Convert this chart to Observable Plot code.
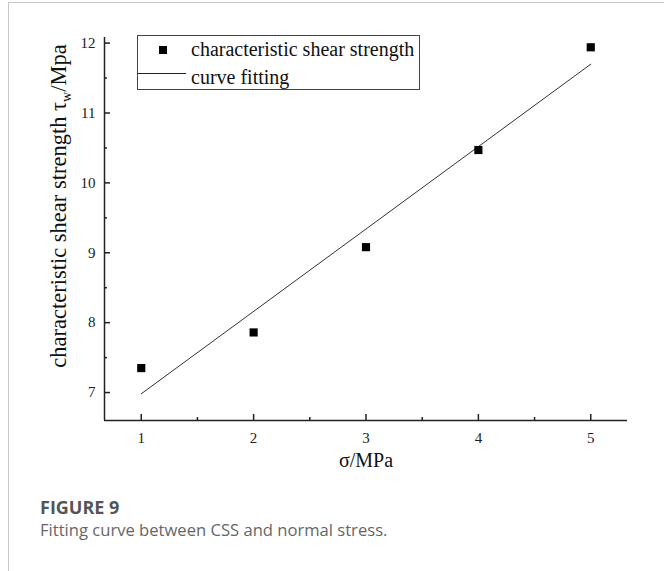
<!DOCTYPE html>
<html>
<head>
<meta charset="utf-8">
<script src="https://cdn.jsdelivr.net/npm/d3@7"></script>
<script src="https://cdn.jsdelivr.net/npm/@observablehq/plot@0.6"></script>
<style>
  body { margin: 0; background: #fff; }
  #fig { position: relative; width: 664px; height: 571px; overflow: hidden; background: #fff; }
  .rule-top { position: absolute; left: 8px; top: 2px; right: 0; border-top: 1px solid #c9c9c9; }
  .rule-left { position: absolute; left: 8px; top: 2px; bottom: 0; border-left: 1px solid #c9c9c9; }
  #chart { position: absolute; left: 0; top: 0; }
  .serif { font-family: "Liberation Serif", "Times New Roman", serif; color: #111; }
  #legend { position: absolute; left: 137px; top: 35px; width: 283px; height: 55px; box-sizing: border-box; border: 1px solid #444; background: #fff; }
  #legend .row { position: absolute; font-size: 20px; line-height: 1; white-space: nowrap; }
  #legend .sq { position: absolute; left: 21px; width: 8px; height: 8px; background: #000; }
  #legend .ln { position: absolute; left: 0; width: 48px; border-top: 1px solid #222; }
  #ylabel { position: absolute; left: 59px; top: 206px; transform: translate(-50%, -50%) rotate(-90deg); font-size: 22.5px; white-space: nowrap; }
  #ylabel sub { font-size: 14px; vertical-align: -5px; line-height: 0; }
  .cap-title { position: absolute; left: 40px; top: 498px; line-height: 1; font-family: "Open Sans", sans-serif; font-weight: 700; font-size: 18px; color: #555; }
  .cap-text { position: absolute; left: 40px; top: 522px; line-height: 1; font-family: "Open Sans", sans-serif; font-size: 16.6px; color: #666; }
</style>
</head>
<body>
<div id="fig">
  <div class="rule-top"></div>
  <div class="rule-left"></div>
  <div id="chart"></div>
  <div id="ylabel" class="serif">characteristic shear strength τ<sub>w</sub>/Mpa</div>
  <div id="legend" class="serif">
    <div class="sq" style="top:10px"></div>
    <div class="row" style="left:53px; top:3px">characteristic shear strength</div>
    <div class="ln" style="top:37px"></div>
    <div class="row" style="left:53px; top:31px">curve fitting</div>
  </div>
  <div class="cap-title">FIGURE 9</div>
  <div class="cap-text">Fitting curve between CSS and normal stress.</div>
</div>
<script>
// Normal stress σ (MPa) and measured characteristic shear strength τw (MPa)
const sigma = [1, 2, 3, 4, 5];
const tauW = [7.35, 7.86, 9.08, 10.47, 11.94];

// Axis ticks
const xMajor = [1, 2, 3, 4, 5];
const xMinor = [1.5, 2.5, 3.5, 4.5];
const yMajor = [7, 8, 9, 10, 11, 12];
const yMinor = [7.5, 8.5, 9.5, 10.5, 11.5];

const xDomain = [0.673, 5.327];
const yDomain = [6.6, 12.08];

const points = sigma.map((s, i) => ({sigma: s, tau: tauW[i]}));

const serif = "Liberation Serif, Times New Roman, serif";
const intFmt = d3.format("d");

const chart = Plot.plot({
  width: 664,
  height: 490,
  marginLeft: 104,
  marginRight: 37,
  marginTop: 37,
  marginBottom: 70,
  style: {fontFamily: serif, fontSize: "15px", color: "#222", background: "transparent"},
  x: {domain: xDomain, label: null},
  y: {domain: yDomain, label: null},
  marks: [
    // least-squares fit through the measurements
    Plot.linearRegressionY(points, {x: "sigma", y: "tau", ci: 0, stroke: "#333", strokeWidth: 1}),
    Plot.dot(points, {x: "sigma", y: "tau", symbol: "square", r: 4.6, fill: "#000", stroke: "none"}),
    // left and bottom axis lines
    Plot.ruleX([xDomain[0]], {stroke: "#222", strokeWidth: 1.5}),
    Plot.ruleY([yDomain[0]], {stroke: "#222", strokeWidth: 1.5}),
    // inward ticks
    Plot.axisX(xMajor, {tickSize: -6, text: null, label: null, stroke: "#222", strokeWidth: 1.5}),
    Plot.axisX(xMinor, {tickSize: -3, text: null, label: null, stroke: "#222", strokeWidth: 1.5}),
    Plot.axisY(yMajor, {tickSize: -6, text: null, label: null, stroke: "#222", strokeWidth: 1.5}),
    Plot.axisY(yMinor, {tickSize: -3, text: null, label: null, stroke: "#222", strokeWidth: 1.5}),
    // tick labels
    Plot.axisX(xMajor, {tickSize: 0, tickPadding: 12, label: null, tickFormat: intFmt, fontFamily: serif, fontSize: 15, fill: "#222"}),
    Plot.axisY(yMajor, {tickSize: 0, tickPadding: 9, label: null, tickFormat: intFmt, fontFamily: serif, fontSize: 15, fill: "#222"}),
    Plot.text(["σ/MPa"], {frameAnchor: "bottom", dy: 46, fontFamily: serif, fontSize: 20, fill: "#111"})
  ]
});
document.getElementById("chart").appendChild(chart);
</script>
</body>
</html>
